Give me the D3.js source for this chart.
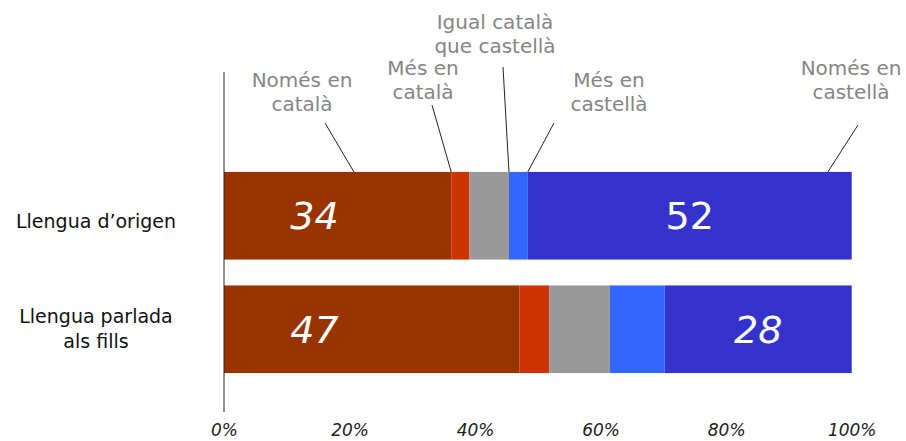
<!DOCTYPE html>
<html>
<head>
<meta charset="utf-8">
<script src="https://cdn.jsdelivr.net/npm/d3@7"></script>
<style>
  body { margin: 0; background: #fff; }
  #chart { width: 906px; height: 441px; }
</style>
</head>
<body>
<div id="chart"></div>
<script>
// Categories (rows) and the five answer groups
const rows = ["Llengua d\u2019origen", "Llengua parlada als fills"];
const groups = ["Només en català", "Més en català", "Igual català que castellà", "Més en castellà", "Només en castellà"];

// Percent widths
const origenValues = [36.2, 2.9, 6.3, 3.0, 51.6];
const fillsValues = [47.1, 4.7, 9.7, 8.7, 29.8];

// Numbers printed inside the bars (first and last segment)
const origenShown = [34, 52];
const fillsShown = [47, 28];

const ticks = [0, 20, 40, 60, 80, 100];
const colors = ["#993300", "#cc3300", "#999999", "#3366ff", "#3333cc"];

const width = 906;
const height = 441;

const svg = d3.select("#chart")
    .append("svg")
    .attr("width", width)
    .attr("height", height)
    .style("font-family", "'DejaVu Sans', Verdana, sans-serif");

const x = d3.scaleLinear().domain([0, 100]).range([224, 851.7]);
const y = d3.scaleBand().domain(rows).range([159, 386]).paddingInner(0.228).paddingOuter(0.114);

// stack the segments of each row
const table = [origenValues, fillsValues].map((vals, i) => {
    let acc = 0;
    return vals.map((v, j) => {
        const seg = { row: rows[i], group: groups[j], x0: acc, x1: acc + v };
        acc += v;
        return seg;
    });
});

const bars = svg.append("g");
table.forEach(segs => {
    bars.selectAll(null)
        .data(segs)
        .enter()
        .append("rect")
        .attr("x", d => x(d.x0))
        .attr("y", d => y(d.row))
        .attr("width", d => x(d.x1) - x(d.x0))
        .attr("height", y.bandwidth())
        .attr("fill", (d, j) => colors[j]);
});

// white numbers: first one sits near the left, last one centred in its segment
[origenShown, fillsShown].forEach((shown, i) => {
    const segs = table[i];
    const last = segs[segs.length - 1];
    const cy = y(rows[i]) + y.bandwidth() / 2;
    svg.append("text")
        .attr("x", x(14.4))
        .attr("y", cy)
        .attr("dy", "0.36em")
        .attr("text-anchor", "middle")
        .attr("fill", "#fff")
        .style("font-size", "38px")
        .style("font-style", "italic")
        .text(shown[0]);
    svg.append("text")
        .attr("x", x((last.x0 + last.x1) / 2))
        .attr("y", cy)
        .attr("dy", "0.36em")
        .attr("text-anchor", "middle")
        .attr("fill", "#fff")
        .style("font-size", "38px")
        .style("font-style", i === 0 ? "normal" : "italic")
        .text(shown[1]);
});

// row labels on the left
rows.forEach(r => {
    const words = r === rows[1] ? ["Llengua parlada", "als fills"] : [r];
    const cy = y(r) + y.bandwidth() / 2;
    const t = svg.append("text")
        .attr("text-anchor", "middle")
        .attr("fill", "#111")
        .style("font-size", "19px");
    words.forEach((w, k) => {
        t.append("tspan")
            .attr("x", 96)
            .attr("y", cy + 12 - (words.length - 1) * 18 + k * 25)
            .text(w);
    });
});

// vertical baseline
svg.append("line")
    .attr("x1", x(0)).attr("x2", x(0))
    .attr("y1", 72).attr("y2", 412)
    .attr("stroke", "#222")
    .attr("stroke-width", 1);

// bottom axis, labels only
const axis = svg.append("g")
    .attr("transform", "translate(0,412)")
    .call(d3.axisBottom(x).tickValues(ticks).tickSize(0).tickPadding(12).tickFormat(d => d + "%"));
axis.select(".domain").remove();
axis.selectAll("text")
    .style("font-family", "'DejaVu Sans', Verdana, sans-serif")
    .style("font-size", "17px")
    .style("font-style", "italic")
    .attr("fill", "#222");

// group annotations above the first bar (layout only)
const notes = [
    { lines: ["Només en", "català"], tx: 302, ty: 80, from: [325, 123], to: 20.7 },
    { lines: ["Més en", "català"], tx: 423, ty: 68, from: [432, 105], to: 36.2 },
    { lines: ["Igual català", "que castellà"], tx: 495, ty: 22, from: [503, 67], to: 45.4 },
    { lines: ["Més en", "castellà"], tx: 609, ty: 80, from: [554, 123], to: 48.4 },
    { lines: ["Només en", "castellà"], tx: 851, ty: 68, from: [858, 125], to: 96.2 }
];
const topY = y(rows[0]);
notes.forEach(n => {
    const t = svg.append("text")
        .attr("text-anchor", "middle")
        .attr("fill", "#858585")
        .style("font-size", "20px");
    n.lines.forEach((l, k) => {
        t.append("tspan")
            .attr("x", n.tx)
            .attr("y", n.ty + k * 24)
            .attr("dy", "0.35em")
            .text(l);
    });
    svg.append("line")
        .attr("x1", n.from[0]).attr("y1", n.from[1])
        .attr("x2", x(n.to)).attr("y2", topY)
        .attr("stroke", "#222")
        .attr("stroke-width", 1);
});
</script>
</body>
</html>
